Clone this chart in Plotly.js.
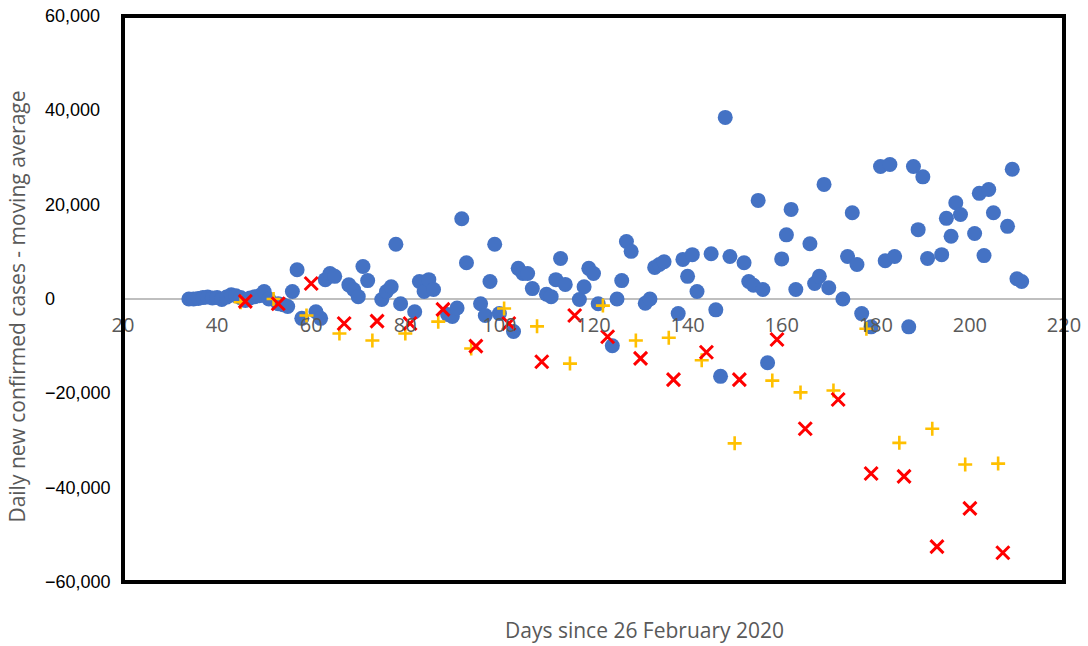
<!DOCTYPE html>
<html>
<head>
<meta charset="utf-8">
<script src="https://cdn.plot.ly/plotly-3.0.1.min.js"></script>
<style>
  html, body { margin: 0; padding: 0; background: #ffffff; }
  #chart { width: 1088px; height: 646px; }
</style>
</head>
<body>
<div id="chart"></div>
<script>
// Daily series (blue circles)
const dailyDays = [34,35,36,37,38,39,40,41,42,43,44,45,46,47,48,49,50,51,53,54,55,56,57,58,61,62,63,64,65,68,69,70,71,72,75,76,77,78,79,82,83,84,85,86,89,90,91,92,93,96,97,98,99,100,103,104,105,106,107,110,111,112,113,114,117,118,119,120,121,124,125,126,127,128,131,132,133,134,135,138,139,140,141,142,145,146,147,148,149,152,153,154,155,156,157,160,161,162,163,166,167,168,169,170,173,174,175,176,177,179,181,182,183,184,187,188,189,190,191,194,195,196,197,198,201,202,203,204,205,208,209,210,211];
const dailyValues = [0,0,100,300,400,200,300,-100,400,900,700,300,-300,200,500,700,1600,0,-1000,-1200,-1600,1600,6200,-4100,-2700,-4100,4100,5400,4800,3000,2000,500,6900,3900,-100,1600,2600,11600,-1000,-2700,3700,1600,4100,2000,-3300,-3700,-1900,17000,7700,-1000,-3500,3700,11600,-3100,-6900,6500,5400,5400,2200,1000,500,4100,8600,3100,-100,2600,6500,5400,-1000,-9900,0,3900,12200,10100,-900,0,6700,7300,7900,-3100,8400,4800,9400,1600,9600,-2300,-16400,38500,9000,7700,3700,2900,20900,2000,-13500,8500,13600,19000,2000,11700,3300,4800,24300,2400,0,9000,18300,7300,-3100,-5900,28100,8100,28500,9000,-5900,28100,14700,25900,8600,9400,17100,13300,20400,17900,13900,22400,9200,23200,18300,15400,27500,4300,3700];

// Weekly series A (yellow plus)
const weekADays = [45,52,59,66,73,80,87,94,101,108,115,122,129,136,143,150,158,164,171,178,185,192,199,206];
const weekAValues = [-700,0,-3500,-7300,-8800,-7300,-4800,-10500,-2000,-5800,-13700,-1400,-8800,-8200,-13000,-30600,-17300,-19800,-19400,-6300,-30500,-27500,-35100,-34900];

// Weekly series B (red x)
const weekBDays = [46,53,60,67,74,81,88,95,102,109,116,123,130,137,144,151,159,165,172,179,186,193,200,207];
const weekBValues = [-500,-1000,3300,-5200,-4700,-5200,-2200,-10000,-5200,-13300,-3500,-8000,-12600,-17100,-11300,-17100,-8600,-27500,-21300,-37000,-37600,-52500,-44400,-53800];

// Axis ticks
const xTickVals = [20,40,60,80,100,120,140,160,180,200,220];
const xTickText = ['20','40','60','80','100','120','140','160','180','200','220'];
const yTickVals = [60000,40000,20000,0,-20000,-40000,-60000];
const yTickText = ['60,000','40,000','20,000','0','\u221220,000','\u221240,000','\u221260,000'];

const xTitle = 'Days since 26 February 2020';
const yTitle = 'Daily new confirmed cases - moving average';

const traces = [
  {
    x: dailyDays, y: dailyValues, type: 'scatter', mode: 'markers',
    marker: { symbol: 'circle', size: 15, color: '#4472C4' },
    hoverinfo: 'x+y', showlegend: false
  },
  {
    x: weekADays, y: weekAValues, type: 'scatter', mode: 'markers',
    marker: { symbol: 'cross-thin', size: 10, color: '#FFC000', line: { color: '#FFC000', width: 2.6 } },
    showlegend: false
  },
  {
    x: weekBDays, y: weekBValues, type: 'scatter', mode: 'markers',
    marker: { symbol: 'x-thin', size: 13, color: '#FF0000', line: { color: '#FF0000', width: 3 } },
    showlegend: false
  }
];

const yLabelAnnotations = yTickVals.map((v, i) => ({
  xref: 'paper', yref: 'y', x: -0.085, y: v,
  xanchor: 'left', yanchor: 'middle', showarrow: false,
  text: yTickText[i],
  font: { family: 'Liberation Sans, Arial, sans-serif', size: 18, color: '#000000' }
}));

const layout = {
  width: 1088, height: 646,
  margin: { l: 123, r: 24, t: 16, b: 64 },
  paper_bgcolor: '#ffffff', plot_bgcolor: '#ffffff',
  showlegend: false,
  xaxis: {
    range: [20, 220], anchor: 'free', position: 0.5,
    tickvals: xTickVals, ticktext: xTickText,
    showgrid: false, zeroline: false, showline: false, ticks: '',
    ticklabelstandoff: 12,
    tickfont: { family: 'Open Sans, sans-serif', size: 20, color: '#595959' }
  },
  yaxis: {
    range: [-60000, 60000], tickvals: yTickVals,
    showticklabels: false, showgrid: false, ticks: '', showline: false,
    zeroline: true, zerolinecolor: '#BFBFBF', zerolinewidth: 2
  },
  shapes: [{
    type: 'rect', xref: 'paper', yref: 'paper', x0: 0, x1: 1, y0: 0, y1: 1,
    line: { color: '#000000', width: 4 }, fillcolor: 'rgba(0,0,0,0)', layer: 'above'
  }],
  annotations: yLabelAnnotations.concat([
    {
      xref: 'paper', yref: 'paper', x: 0.554, y: -0.085,
      xanchor: 'center', yanchor: 'middle', showarrow: false,
      text: xTitle,
      font: { family: 'Open Sans, sans-serif', size: 21, color: '#595959' }
    },
    {
      xref: 'paper', yref: 'paper', x: -0.113, y: 0.486,
      xanchor: 'center', yanchor: 'middle', showarrow: false, textangle: -90,
      text: yTitle,
      font: { family: 'Open Sans, sans-serif', size: 21, color: '#595959' }
    }
  ])
};

Plotly.newPlot('chart', traces, layout, { displayModeBar: false, staticPlot: true });
</script>
</body>
</html>
